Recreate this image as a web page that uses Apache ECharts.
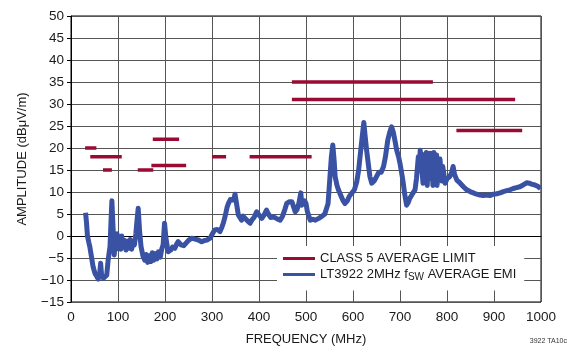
<!DOCTYPE html>
<html><head><meta charset="utf-8">
<script src="https://cdn.jsdelivr.net/npm/echarts@6/dist/echarts.min.js"></script>
<style>html,body{margin:0;padding:0;background:#fff}#c{width:571px;height:355px}</style>
</head><body><div id="c"></div>
<script>
var xTicks = [0,100,200,300,400,500,600,700,800,900,1000];
var yTicks = [-15,-10,-5,0,5,10,15,20,25,30,35,40,45,50];

// CLASS 5 average limit segments
var limitStart = [30, 41, 76, 68, 142, 174, 171, 300, 380, 420, 470, 470, 820];
var limitEnd   = [54, 88, 108, 87, 175, 230, 245, 330, 512, 450, 770, 945, 960];
var limitLevel = [20, 18, 18, 15, 15, 22, 16, 18, 18, 18, 35, 31, 24];

// LT3922 EMI trace
var emiFreq = [31,33,35,38,40,44,47,51,55,58,61,63,65,69,73,76,79,83,85,87,89,90,92,94,96,98,100,103,106,108,111,114,117,120,123,126,129,132,135,138,140,143,146,149,153,157,160,163,166,170,173,176,179,183,186,190,193,196,199,202,205,207,212,216,221,225,228,234,240,243,250,257,264,271,278,285,290,296,301,306,311,317,321,324,328,332,335,339,342,346,349,352,356,360,363,366,370,375,381,386,390,395,400,406,411,416,420,425,430,437,445,450,455,459,465,470,474,477,481,485,489,491,493,497,500,503,509,515,520,527,533,540,547,551,554,557,560,562,566,569,575,579,583,588,592,597,603,608,612,615,619,623,626,629,633,636,640,645,650,655,660,665,669,674,678,682,686,689,693,697,700,704,707,710,714,717,721,726,732,735,739,741,743,746,749,751,753,756,758,760,763,765,768,770,772,775,778,779,781,785,789,791,796,800,806,810,813,816,821,828,835,842,849,856,863,870,877,884,891,899,906,913,920,927,934,941,948,955,962,970,975,980,987,993,999];
var emiAmp = [5.3,3.0,0,-1.5,-2.4,-5,-7,-8.5,-9.2,-9.8,-8.5,-6.2,-8.8,-9.6,-9.2,-8.9,-5.5,-2.4,3,8.0,3,0.6,-4.3,-1,-3,0.5,-2.5,-0.5,-3,0,-2.2,-1,-3.2,-1.2,-2.8,-0.8,-3,-1.5,-2,0.5,3,6.3,1,-2.4,-4.5,-5.5,-4.2,-6,-4.5,-5.8,-3.8,-5.5,-4,-5.2,-3.6,-4.8,-3,-2,2.9,-0.5,-2.5,-3.6,-3.2,-2.5,-2.8,-1.8,-1.3,-2,-2.2,-2,-1,-0.5,-0.7,-0.9,-1.3,-1,-0.9,-0.5,0.5,1.4,1.5,1.0,2,2.9,4.5,6.5,7.4,8.3,8.6,8.2,9.5,7.5,4.8,4.4,3.6,4.5,4.4,3.5,2.9,3.8,4.3,5.5,4.8,4.0,4.8,5.9,5,4.2,4.4,4,3.6,4.5,6,7.4,7.8,7.8,6.5,5.5,6,7.5,9.8,7,6.7,8,7.4,5.5,3.6,3.8,3.6,4,4.4,5,7.4,13.5,18,20.7,17,13.5,11.5,10.5,9,8,7.4,8,9,9.7,10.5,12.3,15,18,22,25.8,22.5,19.5,16,13.5,12,12.5,13.5,14.5,14.5,15.8,18,21.8,23.5,24.8,23.5,21.8,19.5,18,16.5,14,12,9.5,7,7.5,8.6,9.5,10.5,13,18,15,19.5,19.5,12,18.5,16.5,19,11.5,18.8,13,18.8,17,11.5,19,15,18.4,11.5,16,17.5,12.5,15.8,12,13,13.5,14.5,15.8,14,12.7,12,11.2,10.5,10.1,9.8,9.5,9.3,9.2,9.3,9.2,9.5,9.6,9.8,10.1,10.3,10.5,10.8,11,11.2,11.6,12.1,12,11.8,11.6,11.3,10.8];

var limitData = [];
for (var i = 0; i < limitStart.length; i++) {
  limitData.push([limitStart[i], limitLevel[i]]);
  limitData.push([limitEnd[i], limitLevel[i]]);
  limitData.push([limitEnd[i], '-']);
}
var emiData = emiFreq.map(function (f, i) { return [f, emiAmp[i]]; });

var FONT = '"Liberation Sans Narrow","Liberation Sans",Arial,sans-serif';
var RED = '#990b33', BLUE = '#3a52a3', TXT = '#1a1a1a';

var chart = echarts.init(document.getElementById('c'), null, {renderer: 'canvas'});
chart.setOption({
  animation: false,
  backgroundColor: '#fff',
  grid: {left: 71, right: 30, top: 16, bottom: 53, show: true, borderColor: '#000', borderWidth: 1, containLabel: false},
  xAxis: {
    type: 'value', min: 0, max: 1000, interval: 100,
    name: 'FREQUENCY (MHz)', nameLocation: 'middle', nameGap: 31,
    nameTextStyle: {fontFamily: FONT, fontSize: 13, color: TXT},
    axisLine: {show: true, lineStyle: {color: '#000', width: 1}},
    axisTick: {show: false},
    axisLabel: {fontFamily: FONT, fontSize: 13.5, color: TXT, margin: 8,
      formatter: function (v) { return String(v); }},
    splitLine: {show: true, lineStyle: {color: '#555', width: 1}}
  },
  yAxis: {
    type: 'value', min: -15, max: 50, interval: 5,
    name: 'AMPLITUDE (dBμV/m)', nameLocation: 'middle', nameGap: 42, nameRotate: 90,
    nameTextStyle: {fontFamily: FONT, fontSize: 13, color: TXT},
    axisLine: {show: true, lineStyle: {color: '#000', width: 1}},
    axisTick: {show: true, inside: false, length: 4, lineStyle: {color: '#000'}},
    axisLabel: {fontFamily: FONT, fontSize: 13.5, color: TXT, margin: 7,
      formatter: function (v) { return String(v).replace('-', '\u2212'); }},
    splitLine: {show: true, lineStyle: {color: '#555', width: 1}}
  },
  legend: {
    left: 277, top: 246, orient: 'vertical',
    backgroundColor: '#fff', padding: [6, 8, 8, 6], itemGap: 3,
    itemWidth: 32, itemHeight: 3, icon: 'rect',
    textStyle: {fontFamily: FONT, fontSize: 13, color: TXT,
      rich: {
        a: {fontFamily: FONT, fontSize: 13, color: TXT},
        s: {fontFamily: FONT, fontSize: 10, color: TXT, padding: [6, 0, 0, 0]}
      }},
    formatter: function (name) {
      if (name.indexOf('LT3922') === 0) return '{a|LT3922 2MHz f}{s|SW}{a| AVERAGE EMI}';
      return name;
    },
    data: ['CLASS 5 AVERAGE LIMIT', 'LT3922 2MHz fSW AVERAGE EMI']
  },
  graphic: [{
    type: 'text', right: 4, top: 338,
    style: {text: '3922 TA10c', fontFamily: FONT, fontSize: 7, fill: '#333'}
  }],
  series: [
    {
      name: 'LT3922 2MHz fSW AVERAGE EMI', type: 'line', data: emiData,
      showSymbol: false, symbol: 'none', color: BLUE, z: 3,
      lineStyle: {color: BLUE, width: 5, join: 'round'}
    },
    {
      name: 'CLASS 5 AVERAGE LIMIT', type: 'line', data: limitData,
      showSymbol: false, symbol: 'none', connectNulls: false, color: RED, z: 4,
      lineStyle: {color: RED, width: 3.5}
    }
  ]
});
</script></body></html>
